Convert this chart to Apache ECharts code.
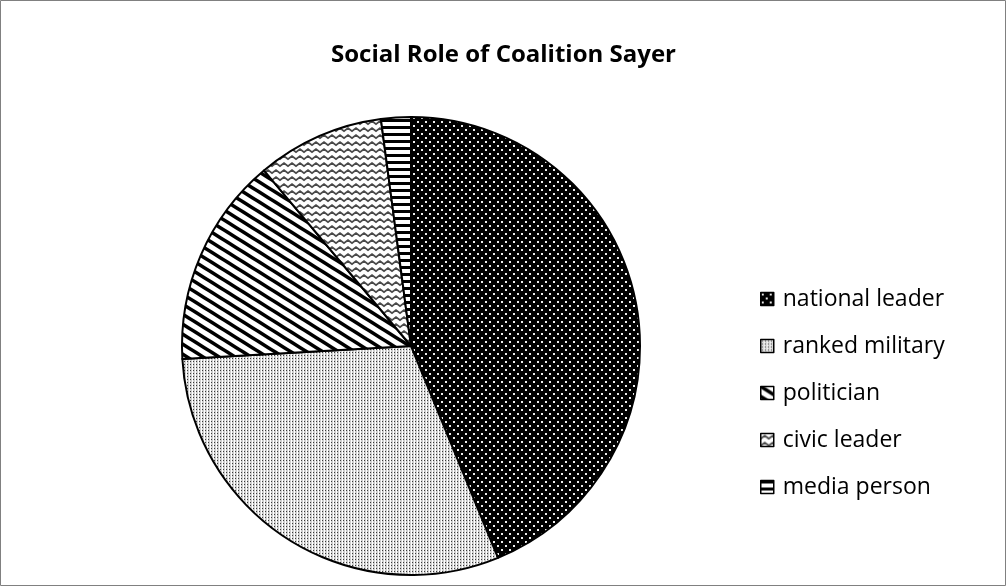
<!DOCTYPE html>
<html>
<head>
<meta charset="utf-8">
<script src="https://cdn.jsdelivr.net/npm/echarts@6/dist/echarts.min.js"></script>
<style>
html,body{margin:0;padding:0;background:#fff;}
#c{width:1007px;height:587px;}
</style>
</head>
<body>
<div id="c"></div>
<script>
const titleText = 'Social Role of Coalition Sayer';
const categories = ['national leader', 'ranked military', 'politician', 'civic leader', 'media person'];
const values = [43.8, 30.3, 14.8, 9.0, 2.1];

function makeTile(w, h, draw) {
  const cv = document.createElement('canvas');
  cv.width = w; cv.height = h;
  const ctx = cv.getContext('2d');
  draw(ctx, w, h);
  return { image: cv, repeat: 'repeat' };
}

const patterns = [
  // national leader: black with white dots
  makeTile(8, 8, (ctx) => {
    ctx.fillStyle = '#000'; ctx.fillRect(0, 0, 8, 8);
    ctx.fillStyle = '#eee';
    ctx.fillRect(1, 1, 2, 2);
    ctx.fillRect(5, 5, 2, 2);
  }),
  // ranked military: fine gray dotted
  makeTile(3, 3, (ctx) => {
    ctx.fillStyle = '#cfcfcf'; ctx.fillRect(0, 0, 3, 3);
    ctx.fillStyle = '#fff'; ctx.fillRect(0, 0, 1, 3);
    ctx.fillStyle = '#3a3a3a'; ctx.fillRect(1, 1, 1, 1);
  }),
  // politician: diagonal black stripes
  makeTile(16, 10, (ctx) => {
    ctx.fillStyle = '#fff'; ctx.fillRect(0, 0, 16, 10);
    ctx.strokeStyle = '#000'; ctx.lineWidth = 3.6;
    for (let k = -1; k <= 1; k++) {
      ctx.beginPath();
      ctx.moveTo(-16 + k * 16, -10);
      ctx.lineTo(32 + k * 16, 20);
      ctx.stroke();
    }
  }),
  // civic leader: gray wavy lines
  makeTile(8, 7, (ctx) => {
    ctx.fillStyle = '#fff'; ctx.fillRect(0, 0, 8, 7);
    ctx.strokeStyle = '#4a4a4a'; ctx.lineWidth = 1.8;
    ctx.beginPath();
    ctx.moveTo(-2, 3.5); ctx.lineTo(0, 5); ctx.lineTo(4, 2); ctx.lineTo(8, 5); ctx.lineTo(10, 3.5);
    ctx.stroke();
  }),
  // media person: horizontal black stripes
  makeTile(4, 7, (ctx) => {
    ctx.fillStyle = '#fff'; ctx.fillRect(0, 0, 4, 7);
    ctx.fillStyle = '#000'; ctx.fillRect(0, 0, 4, 3);
  })
];

const chart = echarts.init(document.getElementById('c'));
chart.setOption({
  animation: false,
  backgroundColor: '#fff',
  title: {
    text: titleText,
    left: 'center',
    top: 38,
    textStyle: { fontFamily: 'Open Sans', fontWeight: 'bold', fontSize: 24, color: '#000' }
  },
  graphic: [{
    type: 'rect',
    shape: { x: 0.5, y: 0.5, width: 1005, height: 585 },
    style: { fill: 'none', stroke: '#808080', lineWidth: 1 },
    silent: true
  }],
  legend: {
    orient: 'vertical',
    left: 755,
    top: 281,
    itemWidth: 13,
    itemHeight: 13,
    itemGap: 21,
    icon: 'rect',
    data: categories,
    itemStyle: { borderColor: '#000', borderWidth: 1.5 },
    textStyle: { fontFamily: 'Open Sans', fontSize: 23, color: '#000', lineHeight: 26, padding: [0, 0, 0, 4] }
  },
  series: [{
    type: 'pie',
    center: [411, 346],
    radius: 229,
    startAngle: 90,
    clockwise: true,
    label: { show: false },
    labelLine: { show: false },
    emphasis: { disabled: true },
    itemStyle: { borderColor: '#000', borderWidth: 2 },
    data: categories.map((n, i) => ({ name: n, value: values[i], itemStyle: { color: patterns[i] } }))
  }]
});
</script>
</body>
</html>
